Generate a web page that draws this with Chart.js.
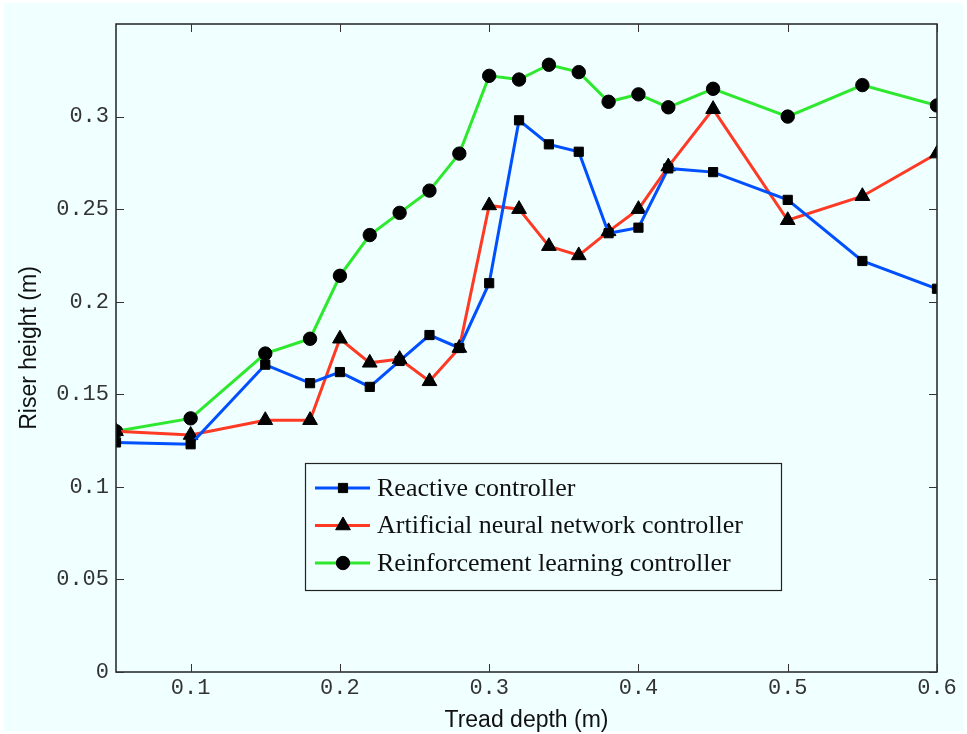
<!DOCTYPE html>
<html><head><meta charset="utf-8">
<script src="https://cdn.jsdelivr.net/npm/chart.js@4/dist/chart.umd.min.js"></script>
<style>html,body{margin:0;padding:0;background:#fff;overflow:hidden}#wrap{width:967px;height:734px;position:relative}</style>
</head><body><div id="wrap"><canvas id="c" width="967" height="734"></canvas></div>
<script>
const treadDepth = [0.05,0.10,0.15,0.18,0.20,0.22,0.24,0.26,0.28,0.30,0.32,0.34,0.36,0.38,0.40,0.42,0.45,0.50,0.55,0.60];
const reactive = [0.124,0.123,0.166,0.156,0.162,0.154,0.168,0.182,0.175,0.210,0.298,0.285,0.281,0.237,0.240,0.272,0.270,0.255,0.222,0.207];
const ann      = [0.130,0.128,0.136,0.136,0.180,0.167,0.169,0.157,0.175,0.252,0.250,0.230,0.225,0.238,0.250,0.273,0.304,0.244,0.257,0.280];
const rl       = [0.130,0.137,0.172,0.180,0.214,0.236,0.248,0.260,0.280,0.322,0.320,0.328,0.324,0.308,0.312,0.305,0.315,0.300,0.317,0.306];
const xTicks = [0.1,0.2,0.3,0.4,0.5,0.6];
const yTicks = [0,0.05,0.1,0.15,0.2,0.25,0.3];
const xTickLabels = ['0.1','0.2','0.3','0.4','0.5','0.6'];
const yTickLabels = ['0','0.05','0.1','0.15','0.2','0.25','0.3'];
const seriesNames = ['Reactive controller','Artificial neural network controller','Reinforcement learning controller'];

const pts = arr => treadDepth.map((x,i)=>({x:x,y:arr[i]}));
const BG = '#f0ffff';
const titleFont = '"Liberation Sans Narrow", "Liberation Sans", Arial, sans-serif';

const bgPlugin = {
  id:'bg',
  beforeDraw(chart){
    const c = chart.ctx;
    c.save(); c.fillStyle = BG; c.fillRect(4,3,chart.width-8,chart.height-6); c.restore();
  }
};
const framePlugin = {
  id:'frame',
  afterDraw(chart){
    const c = chart.ctx, a = chart.chartArea, xs = chart.scales.x, ys = chart.scales.y;
    c.save();
    c.strokeStyle = '#222'; c.lineWidth = 1.5;
    c.strokeRect(a.left, a.top, a.right-a.left, a.bottom-a.top);
    c.strokeStyle = '#333'; c.lineWidth = 1;
    const L = 8;
    xTicks.forEach(v=>{
      const px = Math.round(xs.getPixelForValue(v))+0.5;
      c.beginPath(); c.moveTo(px,a.bottom); c.lineTo(px,a.bottom-L); c.moveTo(px,a.top); c.lineTo(px,a.top+L); c.stroke();
    });
    yTicks.forEach(v=>{
      const py = Math.round(ys.getPixelForValue(v))+0.5;
      c.beginPath(); c.moveTo(a.left,py); c.lineTo(a.left+L,py); c.moveTo(a.right,py); c.lineTo(a.right-L,py); c.stroke();
    });
    // legend
    const lx = 305, ly = 463, lw = 476, lh = 127;
    c.fillStyle = BG; c.fillRect(lx,ly,lw,lh);
    c.strokeStyle = '#222'; c.lineWidth = 1.2; c.strokeRect(lx+0.5,ly+0.5,lw,lh);
    c.font = '26px "Liberation Serif", "DejaVu Serif", serif';
    c.textBaseline = 'middle';
    chart.data.datasets.forEach((ds,i)=>{
      const y = 488 + i*37.5;
      c.strokeStyle = ds.borderColor; c.lineWidth = 3;
      c.beginPath(); c.moveTo(315,y); c.lineTo(370,y); c.stroke();
      c.fillStyle = '#000'; c.strokeStyle = '#000'; c.lineWidth = 1;
      Chart.helpers.drawPoint(c,{pointStyle:ds.pointStyle,radius:ds.pointRadius,borderWidth:1},343,y);
      c.fillStyle = '#111';
      c.fillText(seriesNames[i], 377, y+1);
    });
    c.restore();
  }
};

const common = {fill:false,borderWidth:3,pointBackgroundColor:'#000',pointBorderColor:'#000',pointBorderWidth:1,tension:0};
new Chart(document.getElementById('c'),{
  type:'line',
  data:{datasets:[
    Object.assign({label:seriesNames[0],data:pts(reactive),borderColor:'#0050ff',pointStyle:'rect',pointRadius:6.5},common),
    Object.assign({label:seriesNames[1],data:pts(ann),borderColor:'#ff3a24',pointStyle:'triangle',pointRadius:8.5},common),
    Object.assign({label:seriesNames[2],data:pts(rl),borderColor:'#2ee82e',pointStyle:'circle',pointRadius:6.7},common)
  ]},
  options:{
    responsive:false, animation:false, devicePixelRatio:1,
    layout:{padding:{top:24,right:30,left:0,bottom:0}},
    plugins:{legend:{display:false},tooltip:{enabled:false}},
    scales:{
      x:{type:'linear',min:0.05,max:0.6,
        afterBuildTicks:s=>{s.ticks = xTicks.map(v=>({value:v}));},
        afterFit:s=>{s.height = 62;},
        grid:{display:true,drawOnChartArea:false,drawTicks:false,color:'transparent'},
        border:{display:false},
        ticks:{padding:3,color:'#333',font:{family:'"Liberation Mono", monospace',size:22},maxRotation:0,
          callback:(v)=>{const i=xTicks.indexOf(v);return i>=0?xTickLabels[i]:'';}},
        title:{display:true,text:'Tread depth (m)',color:'#111',font:{family:titleFont,size:23},padding:{top:0,bottom:0}}
      },
      y:{type:'linear',min:0,max:0.35,
        afterBuildTicks:s=>{s.ticks = yTicks.map(v=>({value:v}));},
        afterFit:s=>{s.width = 116;},
        grid:{display:true,drawOnChartArea:false,drawTicks:false,color:'transparent'},
        border:{display:false},
        ticks:{padding:7,color:'#333',font:{family:'"Liberation Mono", monospace',size:22},
          callback:(v)=>{const i=yTicks.indexOf(v);return i>=0?yTickLabels[i]:'';}},
        title:{display:true,text:'Riser height (m)',color:'#111',font:{family:titleFont,size:23},padding:{top:16,bottom:0}}
      }
    }
  },
  plugins:[bgPlugin,framePlugin]
});
</script></body></html>
